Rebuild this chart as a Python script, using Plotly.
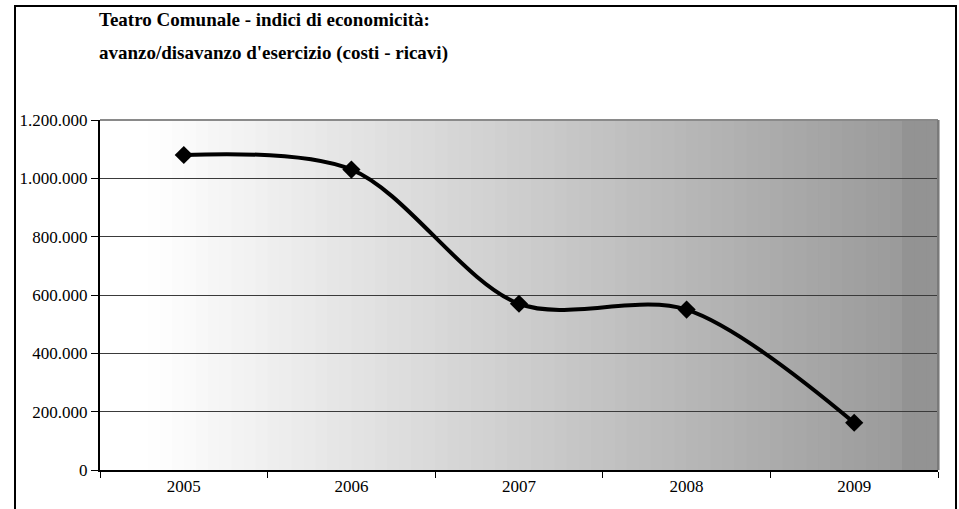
import plotly.graph_objects as go

# ---- data ----
years = ["2005", "2006", "2007", "2008", "2009"]
saldo = [1080000, 1030000, 570000, 550000, 162000]
y_ticks = [0, 200000, 400000, 600000, 800000, 1000000, 1200000]
y_ticktext = ["0", "200.000", "400.000", "600.000", "800.000", "1.000.000", "1.200.000"]
title_line1 = "Teatro Comunale - indici di economicità:"
title_line2 = "avanzo/disavanzo d'esercizio (costi - ricavi)"

W, H = 959, 509
L, R, T, B = 100, 21, 120, 39
pw, ph = W - L - R, H - T - B

def px2x(px):
    return (px - L) / pw

def py2y(py):
    return (H - B - py) / ph

FONT = "Liberation Serif"

shapes = []
# gradient background bands
N = 70
for i in range(N):
    x0 = i / N
    x1 = (i + 1) / N
    pxc = L + (x0 + x1) / 2 * pw
    if pxc < 150:
        g = 255
    elif pxc > 904:
        g = 147
    else:
        g = 255 - (pxc - 150) * (255 - 154) / (904 - 150)
    g = int(round(g))
    shapes.append(dict(type="rect", xref="paper", yref="paper", x0=x0, x1=x1 + 0.002,
                       y0=0, y1=1, fillcolor=f"rgb({g},{g},{g})",
                       line=dict(width=0), layer="below"))
# plot area top and right borders
shapes.append(dict(type="line", xref="paper", yref="paper", x0=0, x1=1, y0=1, y1=1,
                   line=dict(color="#8a8a8a", width=2), layer="above"))
shapes.append(dict(type="line", xref="paper", yref="paper", x0=1, x1=1, y0=0, y1=1,
                   line=dict(color="#7a7a7a", width=2), layer="above"))
# outer chart border (left, top, right)
shapes.append(dict(type="path", xref="paper", yref="paper",
                   path=f"M {px2x(15)} {py2y(520)} L {px2x(15)} {py2y(6)} L {px2x(956)} {py2y(6)} L {px2x(956)} {py2y(520)}",
                   line=dict(color="black", width=2), layer="above"))

fig = go.Figure()
fig.add_trace(go.Scatter(
    x=years, y=saldo, mode="lines+markers",
    line=dict(color="black", width=4, shape="spline", smoothing=0.9),
    marker=dict(symbol="diamond", size=14, color="black"),
    cliponaxis=False, showlegend=False,
))

fig.update_layout(
    width=W, height=H,
    margin=dict(l=L, r=R, t=T, b=B, pad=0),
    paper_bgcolor="white", plot_bgcolor="white",
    font=dict(family=FONT, size=16, color="black"),
    shapes=shapes,
    annotations=[
        dict(text=f"<b>{title_line1}</b>", xref="paper", yref="paper",
             x=px2x(97), y=py2y(20), xanchor="left", yanchor="middle",
             showarrow=False, font=dict(family=FONT, size=19, color="black")),
        dict(text=f"<b>{title_line2}</b>", xref="paper", yref="paper",
             x=px2x(97), y=py2y(53), xanchor="left", yanchor="middle",
             showarrow=False, font=dict(family=FONT, size=19, color="black")),
    ],
)
fig.update_xaxes(
    type="category", range=[-0.5, 4.5],
    showline=True, linecolor="black", linewidth=2,
    ticks="outside", tickson="boundaries", ticklen=6, tickcolor="black", tickwidth=1,
    showgrid=False, tickfont=dict(size=17), fixedrange=True,
)
fig.update_yaxes(
    range=[0, 1200000], tickvals=y_ticks, ticktext=y_ticktext,
    showline=True, linecolor="black", linewidth=2,
    ticks="outside", ticklen=7, tickcolor="black", tickwidth=1,
    showgrid=True, gridcolor="#3a3a3a", gridwidth=1,
    zeroline=False, tickfont=dict(size=17), fixedrange=True,
)

fig.write_html("out.html", config={"displayModeBar": False},
               post_script="document.body.style.margin='0';document.body.style.overflow='hidden';")
